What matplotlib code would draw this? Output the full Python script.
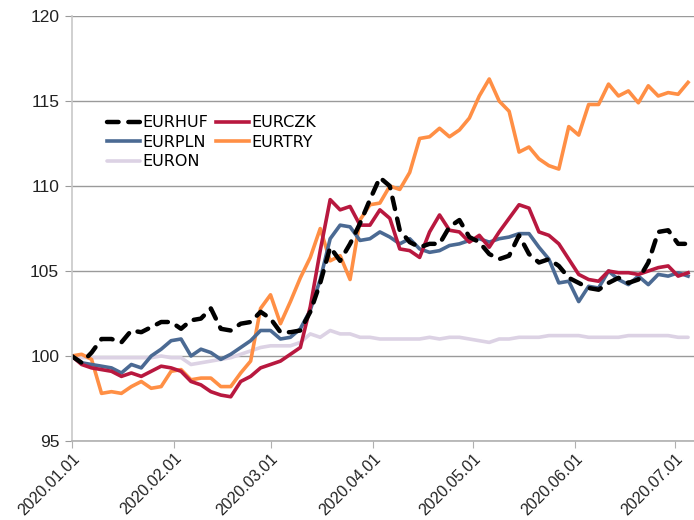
import matplotlib
matplotlib.use("Agg")
import matplotlib.pyplot as plt
import matplotlib.dates as mdates
import pandas as pd

dates = pd.date_range("2020-01-01", "2020-07-05", freq="3D")

eurhuf = [100.0, 99.6, 100.2, 101.0, 101.0, 100.8, 101.5, 101.4, 101.7, 102.0,
          102.0, 101.6, 102.1, 102.2, 102.8, 101.6, 101.5, 101.9, 102.0, 102.6,
          102.2, 101.4, 101.4, 101.5, 102.6, 104.3, 106.4, 105.6, 106.6, 107.8,
          109.2, 110.5, 110.0, 107.4, 106.7, 106.4, 106.6, 106.6, 107.6, 108.0,
          107.0, 106.7, 106.0, 105.7, 105.9, 107.1, 106.0, 105.5, 105.7, 105.3,
          104.6, 104.3, 104.0, 103.9, 104.3, 104.6, 104.3, 104.5, 105.5, 107.3,
          107.4, 106.6, 106.6]
eurczk = [100.0, 99.5, 99.3, 99.2, 99.1, 98.8, 99.0, 98.8, 99.1, 99.4,
          99.3, 99.1, 98.5, 98.3, 97.9, 97.7, 97.6, 98.5, 98.8, 99.3,
          99.5, 99.7, 100.1, 100.5, 102.9, 106.2, 109.2, 108.6, 108.8, 107.7,
          107.7, 108.6, 108.1, 106.3, 106.2, 105.8, 107.3, 108.3, 107.4, 107.3,
          106.7, 107.1, 106.4, 107.3, 108.1, 108.9, 108.7, 107.3, 107.1, 106.6,
          105.7, 104.8, 104.5, 104.4, 105.0, 104.9, 104.9, 104.8, 105.0, 105.2,
          105.3, 104.7, 104.9]
eurpln = [100.0, 99.6, 99.5, 99.4, 99.3, 99.0, 99.5, 99.3, 100.0, 100.4,
          100.9, 101.0, 100.0, 100.4, 100.2, 99.8, 100.1, 100.5, 100.9, 101.5,
          101.5, 101.0, 101.1, 101.6, 102.7, 104.5, 106.9, 107.7, 107.6, 106.8,
          106.9, 107.3, 107.0, 106.6, 106.9, 106.3, 106.1, 106.2, 106.5, 106.6,
          106.8, 106.9, 106.7, 106.9, 107.0, 107.2, 107.2, 106.4, 105.7, 104.3,
          104.4, 103.2, 104.1, 104.0, 105.0, 104.5, 104.2, 104.7, 104.2, 104.8,
          104.7, 104.9, 104.7]
eurtry = [100.0, 100.1, 99.8, 97.8, 97.9, 97.8, 98.2, 98.5, 98.1, 98.2,
          99.1, 99.2, 98.6, 98.7, 98.7, 98.2, 98.2, 99.0, 99.7, 102.8,
          103.6, 101.9, 103.2, 104.6, 105.8, 107.5, 105.6, 105.9, 104.5, 108.0,
          108.9, 109.0, 110.0, 109.8, 110.8, 112.8, 112.9, 113.4, 112.9, 113.3,
          114.0, 115.3, 116.3, 115.0, 114.4, 112.0, 112.3, 111.6, 111.2, 111.0,
          113.5, 113.0, 114.8, 114.8, 116.0, 115.3, 115.6, 114.9, 115.9, 115.3,
          115.5, 115.4, 116.1]
euron = [100.0, 99.9, 99.9, 99.9, 99.9, 99.9, 99.9, 99.9, 99.9, 100.0,
         99.9, 99.9, 99.5, 99.6, 99.7, 99.8, 99.9, 100.1, 100.3, 100.5,
         100.6, 100.6, 100.6, 100.8, 101.3, 101.1, 101.5, 101.3, 101.3, 101.1,
         101.1, 101.0, 101.0, 101.0, 101.0, 101.0, 101.1, 101.0, 101.1, 101.1,
         101.0, 100.9, 100.8, 101.0, 101.0, 101.1, 101.1, 101.1, 101.2, 101.2,
         101.2, 101.2, 101.1, 101.1, 101.1, 101.1, 101.2, 101.2, 101.2, 101.2,
         101.2, 101.1, 101.1]

labels = ["EURHUF", "EURCZK", "EURPLN", "EURTRY", "EURON"]
colors = {"EURHUF": "#000000", "EURCZK": "#b8183f", "EURPLN": "#4b6a93",
          "EURTRY": "#ff8f45", "EURON": "#dcd2e4"}
yticks = [95, 100, 105, 110, 115, 120]

fig = plt.figure(figsize=(6.94, 5.2), dpi=100)
ax = fig.add_axes([0.1033, 0.152, 0.8967, 0.817])

lw = 2.6
lines = {}
lines["EURON"], = ax.plot(dates, euron, color=colors["EURON"], lw=lw, label="EURON",
                          solid_capstyle="round", solid_joinstyle="round")
lines["EURTRY"], = ax.plot(dates, eurtry, color=colors["EURTRY"], lw=lw, label="EURTRY",
                           solid_joinstyle="round")
lines["EURPLN"], = ax.plot(dates, eurpln, color=colors["EURPLN"], lw=lw, label="EURPLN",
                           solid_joinstyle="round")
lines["EURCZK"], = ax.plot(dates, eurczk, color=colors["EURCZK"], lw=lw, label="EURCZK",
                           solid_joinstyle="round")
lines["EURHUF"], = ax.plot(dates, eurhuf, color=colors["EURHUF"], lw=lw + 0.6, label="EURHUF",
                           linestyle=(0, (2.6, 2.2)), dash_capstyle="round",
                           dash_joinstyle="round")

ax.set_ylim(95, 120)
ax.set_yticks(yticks)
ax.set_xlim(pd.Timestamp("2020-01-01"), pd.Timestamp("2020-07-06 19:00"))
ax.xaxis.set_major_locator(mdates.MonthLocator())
ax.xaxis.set_major_formatter(mdates.DateFormatter("%Y.%m.%d"))

ax.grid(axis="y", color="#9a9a9a", lw=1.0)
ax.set_axisbelow(True)
for s in ["top", "right"]:
    ax.spines[s].set_visible(False)
ax.spines["left"].set_color("#c8c8c8")
ax.spines["bottom"].set_color("#b0b0b0")
ax.spines["left"].set_linewidth(1.2)
ax.spines["bottom"].set_linewidth(1.2)
ax.tick_params(axis="y", length=5, color="#9a9a9a", labelsize=12.5, labelcolor="#222222", pad=4)
ax.tick_params(axis="x", length=5, color="#b0b0b0", labelsize=11.5, labelcolor="#222222", pad=2)
for t in ax.get_xticklabels():
    t.set_rotation(45)
    t.set_ha("right")
    t.set_rotation_mode("anchor")
for t in ax.get_xticklabels() + ax.get_yticklabels():
    t.set_family(["Liberation Sans", "DejaVu Sans"])

order = ["EURHUF", "EURPLN", "EURON", "EURCZK", "EURTRY"]
leg = ax.legend([lines[k] for k in order], order, ncol=2, loc="upper left",
                bbox_to_anchor=(0.033, 0.80), frameon=False, handlelength=2.1,
                handletextpad=0.12, columnspacing=0.5, labelspacing=0.28,
                prop={"family": "DejaVu Sans", "size": 11.5})

fig.savefig("out.png", dpi=100)
